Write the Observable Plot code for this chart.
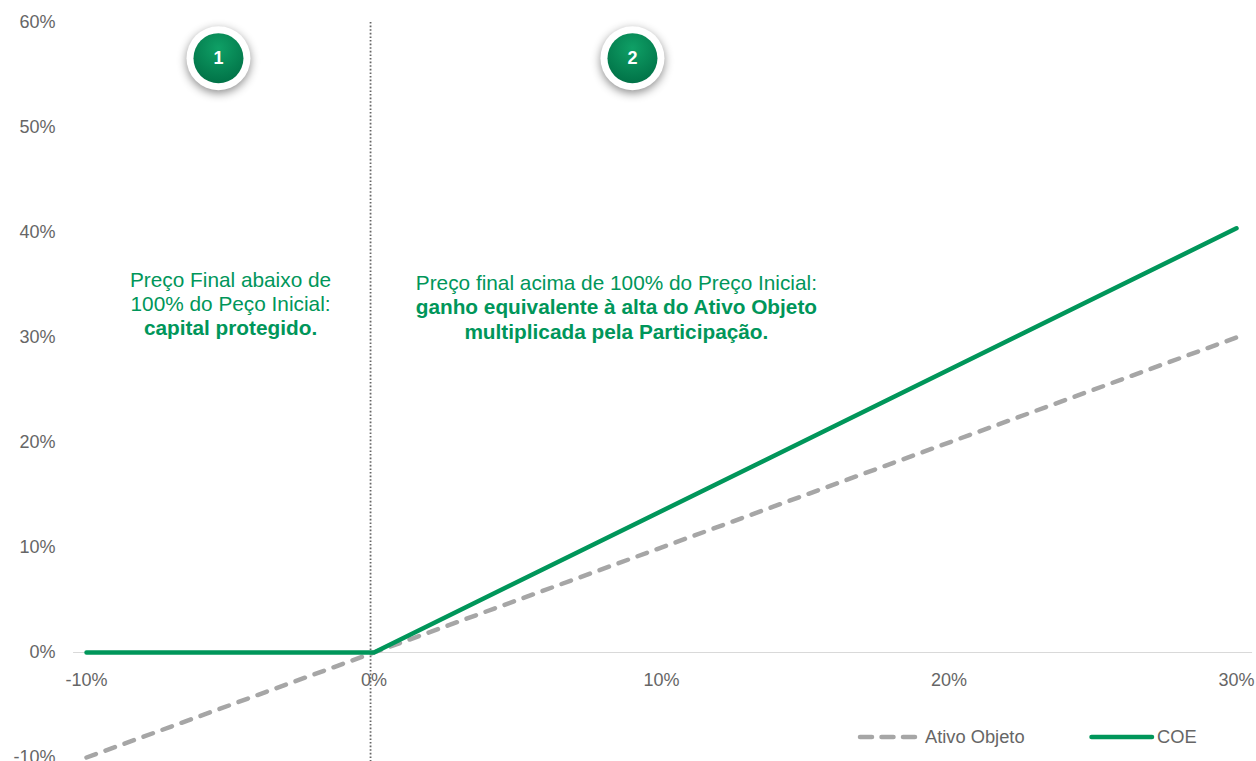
<!DOCTYPE html>
<html lang="pt">
<head>
<meta charset="utf-8">
<script src="https://cdn.jsdelivr.net/npm/d3@7"></script>
<script src="https://cdn.jsdelivr.net/npm/@observablehq/plot@0.6"></script>
<style>
html,body{margin:0;padding:0;background:#fff;overflow:hidden}
#wrap{position:relative;width:1256px;height:761px;font-family:"Liberation Sans",Arial,sans-serif}
#legend{position:absolute;top:727px;left:0;height:20px;width:1256px;color:#666;font-size:18.3px;line-height:20px}
#legend span,#legend svg{position:absolute;top:0}
g[fill="#fff"] circle{filter:drop-shadow(0 3px 5px rgba(0,0,0,.45))}
</style>
</head>
<body>
<div id="wrap"><div id="chart"></div>
<div id="legend">
<svg style="left:856px" width="62" height="20"><line x1="4" x2="60" y1="10" y2="10" stroke="#a6a6a6" stroke-width="4.5" stroke-linecap="round" stroke-dasharray="12 9.5"/></svg>
<span style="left:925px">Ativo Objeto</span>
<svg style="left:1088px" width="68" height="20"><line x1="3.5" x2="64" y1="10" y2="10" stroke="#00965a" stroke-width="4.5" stroke-linecap="round"/></svg>
<span style="left:1157px">COE</span>
</div></div>
<script>
const xTicks = [-10, 0, 10, 20, 30];
const yTicks = [-10, 0, 10, 20, 30, 40, 50, 60];
const ativoX = [-10, 0, 30];
const ativoY = [-10, 0, 30];
const coeX = [-10, 0, 30];
const coeY = [0, 0, 40.4];
const dividerX = [-0.12];
const badgeX = [-5.41, 8.99];
const badgeY = [56.6, 56.6];
const badgeLabels = ["1", "2"];
const noteRegular = ["Preço Final abaixo de", "100% do Peço Inicial:", "Preço final acima de 100% do Preço Inicial:"];
const noteRegularX = [-4.99, -4.99, 8.43];
const noteRegularY = [35.4, 33.2, 35.2];
const noteBold = ["capital protegido.", "ganho equivalente à alta do Ativo Objeto", "multiplicada pela Participação."];
const noteBoldX = [-4.99, 8.43, 8.43];
const noteBoldY = [30.9, 32.9, 30.5];

const GREEN = "#00965a";
const idx = a => a.map((_, i) => i);
const pct = d => d + "%";

const defs = () => {
  const s = d3.create("svg:defs");
  const g = s.append("radialGradient").attr("id", "badge").attr("cx", "50%").attr("cy", "30%").attr("r", "75%");
  g.append("stop").attr("offset", "0%").attr("stop-color", "#0fa066");
  g.append("stop").attr("offset", "100%").attr("stop-color", "#006f45");
  return s.node();
};

const chart = Plot.plot({
  width: 1256, height: 761,
  marginLeft: 86, marginRight: 20, marginTop: 22, marginBottom: 4,
  style: {fontFamily: '"Liberation Sans",Arial,sans-serif', background: "#fff"},
  x: {domain: [-10, 30]},
  y: {domain: [-10, 60]},
  marks: [
    defs,
    Plot.ruleY([0], {x1: -10.45, x2: 30.56, stroke: "#d9d9d9", strokeWidth: 1}),
    Plot.axisY(yTicks, {tickSize: 0, tickPadding: 31, tickFormat: pct, fontSize: 18, fill: "#666", label: null, anchor: "left"}),
    Plot.axisX(xTicks, {y: 0, tickSize: 0, tickPadding: 21, tickFormat: pct, fontSize: 18, fill: "#666", label: null}),
    Plot.ruleX(dividerX, {y1: 60, y2: -10.5, stroke: "#666", strokeWidth: 1.8, strokeDasharray: "1.6 2"}),
    Plot.line(idx(ativoX), {x: i => ativoX[i], y: i => ativoY[i], stroke: "#a6a6a6", strokeWidth: 4.5, strokeLinecap: "round", strokeDasharray: "10 10.23"}),
    Plot.line(idx(coeX), {x: i => coeX[i], y: i => coeY[i], stroke: GREEN, strokeWidth: 4.5, strokeLinecap: "round", strokeLinejoin: "round"}),
    Plot.dot(idx(badgeX), {x: i => badgeX[i], y: i => badgeY[i], r: 32, fill: "#fff"}),
    Plot.dot(idx(badgeX), {x: i => badgeX[i], y: i => badgeY[i], r: 25, fill: "url(#badge)"}),
    Plot.text(idx(badgeX), {x: i => badgeX[i], y: i => badgeY[i], text: i => badgeLabels[i], fill: "#fff", fontSize: 18, fontWeight: "bold"}),
    Plot.text(idx(noteRegular), {x: i => noteRegularX[i], y: i => noteRegularY[i], text: i => noteRegular[i], fill: GREEN, fontSize: 20.8}),
    Plot.text(idx(noteBold), {x: i => noteBoldX[i], y: i => noteBoldY[i], text: i => noteBold[i], fill: GREEN, fontSize: 20.8, fontWeight: "bold"})
  ]
});
document.getElementById("chart").appendChild(chart);
</script>
</body>
</html>
